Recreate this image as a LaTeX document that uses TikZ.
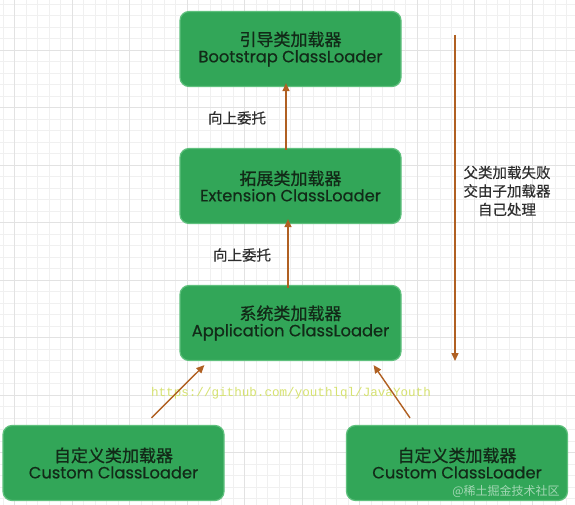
\documentclass[tikz,border=0pt]{standalone}
\usepackage{fontspec}
\setmainfont{Poppins}
\newfontfamily\cjk{Noto Sans CJK SC}
\newfontfamily\monof{Liberation Mono}
\usetikzlibrary{arrows.meta,calc}
\definecolor{boxfill}{RGB}{50,166,88}
\definecolor{boxedge}{RGB}{95,192,125}
\definecolor{boxtext}{RGB}{18,42,24}
\definecolor{arrowc}{RGB}{176,96,34}
\definecolor{gridminor}{RGB}{240,240,240}
\definecolor{gridmajor}{RGB}{226,226,226}
\definecolor{urlc}{RGB}{214,226,112}
\tikzset{
  loader/.style={draw=boxedge, line width=1.2pt, fill=boxfill, rounded corners=9pt,
    minimum width=221pt, minimum height=75pt, align=center, inner sep=0pt, text=boxtext,
    font=\fontsize{16}{16.5}\selectfont},
  uparrow/.style={draw=arrowc, line width=1.4pt, -{Triangle[length=8pt,width=7pt]}},
  lbl/.style={text=black!82, font=\cjk\addfontfeature{FakeBold=0.6}\fontsize{14.5}{18}\selectfont, align=center, inner sep=0pt},
}
\newcommand{\twoline}[2]{{\cjk\addfontfeature{FakeBold=0.8}\fontsize{17}{16.5}\selectfont #1}\\{\addfontfeature{FakeBold=0.6}\fontsize{16.3}{16.5}\selectfont #2}}
\begin{document}
\begin{tikzpicture}[x=1pt,y=-1pt]
\useasboundingbox (0,0) rectangle (575,505);
\fill[white] (0,0) rectangle (575,505);
% grid
\foreach \i in {0,...,50} {
  \draw[gridminor, line width=0.6pt] ({3+\i*11.5},0) -- ({3+\i*11.5},505);
  \draw[gridminor, line width=0.6pt] (0,{4+\i*11.5}) -- (575,{4+\i*11.5});
}
\foreach \i in {0,...,10} {
  \draw[gridmajor, line width=0.8pt] ({14.5+\i*57.5},0) -- ({14.5+\i*57.5},505);
  \draw[gridmajor, line width=0.8pt] (0,{50+\i*57.5}) -- (575,{50+\i*57.5});
}
% boxes
\node[loader] (boot) at (290.5,49) {\twoline{引导类加载器}{Bootstrap ClassLoader}};
\node[loader] (ext) at (290.5,186) {\twoline{拓展类加载器}{Extension ClassLoader}};
\node[loader] (app) at (290.5,323) {\twoline{系统类加载器}{Application ClassLoader}};
\node[loader] (c1) at (113.5,463) {\twoline{自定义类加载器}{Custom ClassLoader}};
\node[loader] (c2) at (457,463) {\twoline{自定义类加载器}{Custom ClassLoader}};
% watermark url
\node[text=urlc, font=\monof\fontsize{12.6}{14}\selectfont, inner sep=0pt] (url) at (291,393) {https://github.com/youthlql/JavaYouth};
% arrows
\draw[uparrow] ([xshift=-4.5pt,yshift=-2pt]ext.north) -- ([xshift=-4.5pt,yshift=4pt]boot.south);
\draw[uparrow] ([xshift=-2.5pt,yshift=-3pt]app.north) -- ([xshift=-2.5pt,yshift=5pt]ext.south);
\coordinate (c1t) at ($(c1.north)+(38,-7)$);
\coordinate (appl) at ($(app.south west)+(25,4)$);
\coordinate (c2t) at ($(c2.north)+(-47,-7)$);
\coordinate (appr) at ($(app.south east)+(-28,4)$);
\draw[uparrow] (c1t) -- (appl);
\draw[uparrow] (c2t) -- (appr);
\coordinate (dtop) at (455,35);
\coordinate (dbot) at (455,361);
\draw[uparrow] (dtop) -- (dbot);
% labels
\node[lbl] (l1) at (237,118) {向上委托};
\node[lbl] (l2) at (242,255) {向上委托};
\node[lbl, font=\cjk\addfontfeature{FakeBold=0.5}\fontsize{14.5}{18.5}\selectfont] (l3) at (507,191) {父类加载失败\\交由子加载器\\自己处理};
% platform watermark
\node[text=white, opacity=0.55, font=\cjk\fontsize{12}{14}\selectfont, inner sep=0pt] (wm) at (506,491) {@稀土掘金技术社区};
\end{tikzpicture}
\end{document}
